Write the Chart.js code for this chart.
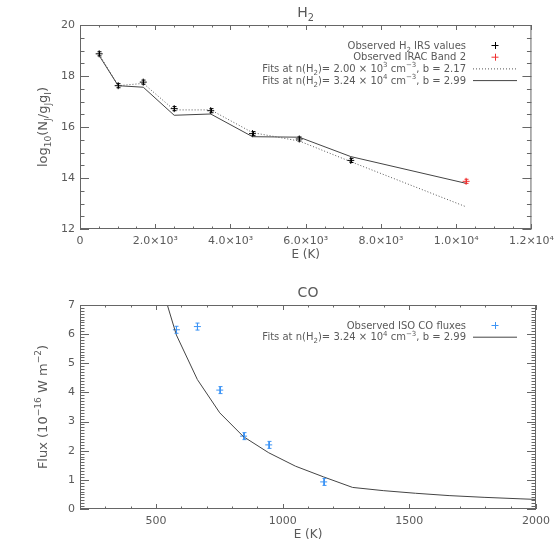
<!DOCTYPE html>
<html>
<head>
<meta charset="utf-8">
<script src="https://cdn.jsdelivr.net/npm/chart.js@4.4.0/dist/chart.umd.min.js"></script>
<style>
  body { margin: 0; background: #fff; }
  canvas { position: absolute; left: 0; }
  #h2 { top: 0; }
  #co { top: 280px; }
</style>
</head>
<body>
<canvas id="h2" width="560" height="280"></canvas>
<canvas id="co" width="560" height="280"></canvas>
<script>
// H2 excitation diagram
const h2Energy = [510, 1015, 1682, 2504, 3474, 4586, 5829, 7197];
const h2LogN = [18.87, 17.62, 17.76, 16.72, 16.64, 15.74, 15.53, 14.69];
const h2Err = [0.08, 0.08, 0.08, 0.08, 0.08, 0.08, 0.08, 0.08];
const iracEnergy = [10263];
const iracLogN = [13.87];
const iracErr = [0.08];
const fitEnergy = [510, 1015, 1682, 2504, 3474, 4586, 5829, 7197, 10263];
const fitLowN = [18.85, 17.62, 17.71, 16.67, 16.67, 15.78, 15.45, 14.64, 12.87];
const fitHighN = [18.80, 17.62, 17.56, 16.46, 16.51, 15.62, 15.60, 14.84, 13.79];
const h2XTicks = [0, 2000, 4000, 6000, 8000, 10000, 12000];
const h2YTicks = [12, 14, 16, 18, 20];

// CO fluxes
const coEnergy = [580.5, 663.4, 751.7, 845.6, 945.0, 1161.9];
const coFlux = [6.15, 6.26, 4.08, 2.50, 2.20, 0.93];
const coErr = [0.12, 0.12, 0.12, 0.12, 0.12, 0.12];
const coFitEnergy = [503.1, 580.5, 663.4, 751.7, 845.6, 945.0, 1050.4, 1161.9, 1276, 1397, 1524, 1657, 1795, 1937, 2086];
const coFit = [8.2, 5.97, 4.44, 3.30, 2.48, 1.93, 1.47, 1.10, 0.74, 0.63, 0.54, 0.46, 0.40, 0.35, 0.30];
const coXTicks = [500, 1000, 1500, 2000];
const coYTicks = [0, 1, 2, 3, 4, 5, 6, 7];

const FONT = '"DejaVu Sans", sans-serif';
const TEXT = '#5a5a5a';
const AXIS = '#666';

const pts = (xs, ys) => xs.map((x, i) => ({ x: x, y: ys[i] }));

const SUP = { '0': '⁰', '1': '¹', '2': '²', '3': '³', '4': '⁴', '5': '⁵', '6': '⁶', '7': '⁷', '8': '⁸', '9': '⁹', '-': '⁻' };
function sci(v) {
  if (v === 0) return '0';
  const e = Math.floor(Math.log10(v));
  const m = (v / Math.pow(10, e)).toFixed(1);
  return m + '×10' + String(e).split('').map(c => SUP[c]).join('');
}

// text with sub/superscripts: parts = [[text, 'sub'|'sup'|'']]
function richWidth(ctx, parts, size) {
  let w = 0;
  parts.forEach(([t, k]) => {
    ctx.font = (k ? size * 0.7 : size) + 'px ' + FONT;
    w += ctx.measureText(t).width;
  });
  return w;
}
function drawRich(ctx, parts, x, y, size, align) {
  const w = richWidth(ctx, parts, size);
  let cx = align === 'right' ? x - w : align === 'center' ? x - w / 2 : x;
  ctx.textAlign = 'left';
  ctx.textBaseline = 'alphabetic';
  parts.forEach(([t, k]) => {
    ctx.font = (k ? size * 0.7 : size) + 'px ' + FONT;
    const dy = k === 'sub' ? size * 0.3 : k === 'sup' ? -size * 0.45 : 0;
    ctx.fillText(t, cx, y + dy);
    cx += ctx.measureText(t).width;
  });
}

function each(min, max, step, fn) {
  const n = Math.round((max - min) / step);
  for (let i = 0; i <= n; i++) fn(min + i * step);
}
const isMajor = (v, m) => Math.abs(v - Math.round(v / m) * m) < 1e-6;

const deco = {
  id: 'deco',
  afterDatasetsDraw(chart, args, o) {
    const { ctx, chartArea: a } = chart;
    const xs = chart.scales.x, ys = chart.scales.y;
    ctx.save();

    // error bars
    chart.data.datasets.forEach((ds, i) => {
      if (!ds.errors) return;
      ctx.strokeStyle = ds.borderColor;
      ctx.lineWidth = 1;
      chart.getDatasetMeta(i).data.forEach((pt, j) => {
        const v = ds.data[j].y, e = ds.errors[j];
        const y1 = ys.getPixelForValue(v - e), y2 = ys.getPixelForValue(v + e);
        const px = Math.round(pt.x) + 0.5;
        ctx.beginPath();
        ctx.moveTo(px, y1); ctx.lineTo(px, y2);
        ctx.moveTo(px - 2, y1); ctx.lineTo(px + 2, y1);
        ctx.moveTo(px - 2, y2); ctx.lineTo(px + 2, y2);
        ctx.stroke();
      });
    });

    // frame and inward ticks on all sides
    ctx.strokeStyle = AXIS;
    ctx.lineWidth = 1;
    ctx.strokeRect(a.left + 0.5, a.top + 0.5, a.width - 1, a.height - 1);
    ctx.beginPath();
    each(xs.min, xs.max, o.xMinor, v => {
      const px = Math.round(xs.getPixelForValue(v)) + 0.5;
      const len = isMajor(v, o.xMajor) ? 5 : 2.5;
      ctx.moveTo(px, a.bottom); ctx.lineTo(px, a.bottom - len);
      ctx.moveTo(px, a.top); ctx.lineTo(px, a.top + len);
    });
    each(ys.min, ys.max, o.yMinor, v => {
      const py = Math.round(ys.getPixelForValue(v)) + 0.5;
      const len = isMajor(v, o.yMajor) ? 9 : 4.5;
      ctx.moveTo(a.left, py); ctx.lineTo(a.left + len, py);
      ctx.moveTo(a.right, py); ctx.lineTo(a.right - len, py);
    });
    ctx.stroke();

    // title and y title
    ctx.fillStyle = TEXT;
    drawRich(ctx, o.title, (a.left + a.right) / 2, 17, 14, 'center');
    ctx.save();
    ctx.translate(47, (a.top + a.bottom) / 2);
    ctx.rotate(-Math.PI / 2);
    drawRich(ctx, o.yTitle, 0, 0, 13, 'center');
    ctx.restore();

    // legend
    o.legend.forEach((row, i) => {
      const cy = 45 + i * 11.7;
      ctx.fillStyle = TEXT;
      drawRich(ctx, row.text, 466, cy + 3.5, 10, 'right');
      ctx.strokeStyle = row.color;
      ctx.beginPath();
      if (row.kind === 'point') {
        ctx.moveTo(491.5, cy + 0.5); ctx.lineTo(498.5, cy + 0.5);
        ctx.moveTo(495.5, cy - 3); ctx.lineTo(495.5, cy + 4);
        ctx.setLineDash([]);
      } else {
        ctx.setLineDash(row.kind === 'dotted' ? [1, 2] : []);
        ctx.moveTo(473, cy + 0.5); ctx.lineTo(517, cy + 0.5);
      }
      ctx.stroke();
      ctx.setLineDash([]);
    });
    ctx.restore();
  }
};

function axis(min, max, ticks, fmt, isX, title) {
  return {
    type: 'linear',
    min: min,
    max: max,
    afterBuildTicks: s => { s.ticks = ticks.map(v => ({ value: v })); },
    afterFit: s => { if (isX) s.height = 51; else s.width = 80; },
    grid: { display: false, drawTicks: false },
    border: { display: false },
    ticks: {
      callback: fmt,
      color: TEXT,
      font: { family: FONT, size: 11 },
      padding: isX ? 6 : 5,
      maxRotation: 0,
      autoSkip: false
    },
    title: title ? {
      display: true,
      text: title,
      color: TEXT,
      font: { family: FONT, size: 12 },
      padding: { top: 0, bottom: 18 }
    } : { display: false }
  };
}

function baseOptions(x, y, deco) {
  return {
    responsive: false,
    animation: false,
    events: [],
    layout: { padding: { left: 0, right: 24, top: 25, bottom: 0 } },
    scales: { x: x, y: y },
    plugins: { legend: { display: false }, tooltip: { enabled: false }, deco: deco }
  };
}

const fitH2 = ')= ';
new Chart(document.getElementById('h2'), {
  type: 'scatter',
  data: {
    datasets: [
      { data: pts(fitEnergy, fitLowN), showLine: true, borderColor: '#555', borderWidth: 1, borderDash: [1, 2], pointRadius: 0 },
      { data: pts(fitEnergy, fitHighN), showLine: true, borderColor: '#444', borderWidth: 1, pointRadius: 0 },
      { data: pts(h2Energy, h2LogN), errors: h2Err, pointStyle: 'cross', pointRadius: 3.5, borderColor: '#000', borderWidth: 1 },
      { data: pts(iracEnergy, iracLogN), errors: iracErr, pointStyle: 'cross', pointRadius: 3.5, borderColor: '#f03030', borderWidth: 1 }
    ]
  },
  options: baseOptions(
    axis(0, 12000, h2XTicks, v => sci(v), true, 'E (K)'),
    axis(12, 20, h2YTicks, v => String(v), false),
    {
      xMajor: 2000, xMinor: 500, yMajor: 2, yMinor: 0.5,
      title: [['H', ''], ['2', 'sub']],
      yTitle: [['log', ''], ['10', 'sub'], ['(N', ''], ['J', 'sub'], ['/g', ''], ['J', 'sub'], ['g', ''], ['I', 'sub'], [')', '']],
      legend: [
        { text: [['Observed H', ''], ['2', 'sub'], [' IRS values', '']], kind: 'point', color: '#000' },
        { text: [['Observed IRAC Band 2', '']], kind: 'point', color: '#f03030' },
        { text: [['Fits at n(H', ''], ['2', 'sub'], [fitH2 + '2.00 × 10', ''], ['3', 'sup'], [' cm', ''], ['−3', 'sup'], [', b = 2.17', '']], kind: 'dotted', color: '#555' },
        { text: [['Fits at n(H', ''], ['2', 'sub'], [fitH2 + '3.24 × 10', ''], ['4', 'sup'], [' cm', ''], ['−3', 'sup'], [', b = 2.99', '']], kind: 'solid', color: '#444' }
      ]
    }
  ),
  plugins: [deco]
});

new Chart(document.getElementById('co'), {
  type: 'scatter',
  data: {
    datasets: [
      { data: pts(coFitEnergy, coFit), showLine: true, borderColor: '#444', borderWidth: 1, pointRadius: 0 },
      { data: pts(coEnergy, coFlux), errors: coErr, pointStyle: 'cross', pointRadius: 3.5, borderColor: '#3d94f5', borderWidth: 1 }
    ]
  },
  options: baseOptions(
    axis(200, 2000, coXTicks, v => String(v), true, 'E (K)'),
    axis(0, 7, coYTicks, v => String(v), false),
    {
      xMajor: 500, xMinor: 100, yMajor: 1, yMinor: 0.1,
      title: [['CO', '']],
      yTitle: [['Flux (10', ''], ['−16', 'sup'], [' W m', ''], ['−2', 'sup'], [')', '']],
      legend: [
        { text: [['Observed ISO CO fluxes', '']], kind: 'point', color: '#3d94f5' },
        { text: [['Fits at n(H', ''], ['2', 'sub'], [fitH2 + '3.24 × 10', ''], ['4', 'sup'], [' cm', ''], ['−3', 'sup'], [', b = 2.99', '']], kind: 'solid', color: '#444' }
      ]
    }
  ),
  plugins: [deco]
});
</script>
</body>
</html>
